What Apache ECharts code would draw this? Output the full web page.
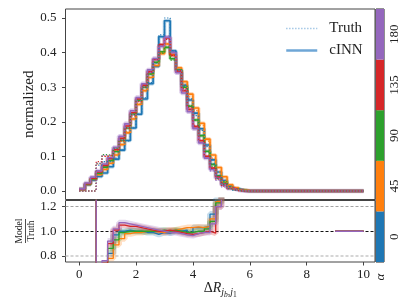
<!DOCTYPE html>
<html><head><meta charset="utf-8">
<script src="https://cdn.jsdelivr.net/npm/echarts@6/dist/echarts.min.js"></script>
<style>html,body{margin:0;padding:0;background:#fff}#c{width:407px;height:305px}</style>
</head><body><div id="c"></div>
<script>
const alphaLabels = ['0', '45', '90', '135', '180'];
const binWidth = 0.2;
const nBins = 50;
const xTicks = [0, 2, 4, 6, 8, 10];
const yTicksTop = [0, 0.1, 0.2, 0.3, 0.4, 0.5];
const yTicksRatio = [0.8, 1.0, 1.2];

// cINN histograms (normalized), bins of width 0.2 from 0 to 10
const cinn0 = [0.004,0.018,0.031,0.042,0.052,0.070,0.092,0.118,0.146,0.182,0.222,0.266,0.310,0.360,0.446,0.492,0.405,0.350,0.306,0.263,0.225,0.180,0.133,0.090,0.055,0.030,0.014,0.006,0.002,0,0,0,0,0,0,0,0,0,0,0,0,0,0,0,0,0,0,0,0,0];
const cinn45 = [0.004,0.019,0.033,0.047,0.062,0.080,0.104,0.134,0.168,0.208,0.250,0.290,0.328,0.362,0.397,0.425,0.395,0.356,0.316,0.280,0.240,0.196,0.150,0.104,0.068,0.041,0.018,0.009,0.003,0.001,0,0,0,0,0,0,0,0,0,0,0,0,0,0,0,0,0,0,0,0];
const cinn90 = [0.005,0.020,0.035,0.051,0.069,0.088,0.114,0.146,0.182,0.222,0.262,0.300,0.338,0.372,0.402,0.415,0.382,0.350,0.300,0.245,0.205,0.160,0.115,0.077,0.044,0.026,0.011,0.005,0.002,0,0,0,0,0,0,0,0,0,0,0,0,0,0,0,0,0,0,0,0,0];
const cinn135 = [0.005,0.021,0.037,0.055,0.074,0.094,0.120,0.152,0.188,0.226,0.266,0.306,0.345,0.380,0.423,0.442,0.392,0.345,0.290,0.236,0.186,0.145,0.100,0.066,0.040,0.020,0.009,0.004,0.001,0,0,0,0,0,0,0,0,0,0,0,0,0,0,0,0,0,0,0,0,0];
const cinn180 = [0.006,0.023,0.040,0.058,0.078,0.097,0.126,0.158,0.194,0.232,0.270,0.310,0.350,0.383,0.418,0.444,0.400,0.342,0.283,0.229,0.180,0.139,0.095,0.062,0.037,0.017,0.008,0.003,0.001,0,0,0,0,0,0,0,0,0,0,0,0,0,0,0,0,0,0,0,0,0];

// Truth histograms
const truth0 = [0,0,0,0.075,0.085,0.085,0.095,0.118,0.145,0.182,0.222,0.269,0.313,0.369,0.451,0.500,0.405,0.350,0.303,0.266,0.218,0.175,0.128,0.079,0.044,0.020,0.008,0.002,0,0,0,0,0,0,0,0,0,0,0,0,0,0,0,0,0,0,0,0,0,0];
const truth45 = [0,0,0,0.078,0.100,0.103,0.117,0.143,0.171,0.210,0.253,0.290,0.328,0.364,0.401,0.425,0.391,0.349,0.307,0.272,0.232,0.190,0.144,0.095,0.055,0.028,0.011,0.004,0.001,0,0,0,0,0,0,0,0,0,0,0,0,0,0,0,0,0,0,0,0,0];
const truth90 = [0,0,0,0.080,0.105,0.102,0.123,0.147,0.182,0.222,0.262,0.300,0.338,0.372,0.398,0.415,0.378,0.350,0.303,0.247,0.205,0.160,0.113,0.071,0.036,0.018,0.006,0.002,0,0,0,0,0,0,0,0,0,0,0,0,0,0,0,0,0,0,0,0,0,0];
const truth135 = [0,0,0,0.085,0.100,0.104,0.119,0.145,0.181,0.217,0.258,0.300,0.342,0.380,0.423,0.438,0.392,0.348,0.296,0.242,0.190,0.146,0.100,0.066,0.034,0.014,0.006,0.001,0,0,0,0,0,0,0,0,0,0,0,0,0,0,0,0,0,0,0,0,0,0];
const truth180 = [0,0,0,0.080,0.103,0.105,0.124,0.148,0.183,0.221,0.260,0.301,0.343,0.379,0.418,0.448,0.404,0.349,0.292,0.237,0.184,0.140,0.096,0.058,0.031,0.012,0.005,0.001,0,0,0,0,0,0,0,0,0,0,0,0,0,0,0,0,0,0,0,0,0,0];

// Model / Truth ratios (null = not drawn)
const ratio0 = [3,3,3,0.56,0.61,0.82,0.97,1.00,1.01,1.00,1.00,0.99,0.99,0.975,0.99,0.985,1.00,1.00,1.01,0.99,1.03,1.03,1.04,1.14,1.26,1.5,1.75,3,null,null,null,null,null,null,null,null,null,null,null,null,null,null,null,null,null,1,1,1,1,1];
const ratio45 = [3,3,3,0.60,0.62,0.78,0.89,0.94,0.98,0.99,0.99,1.00,1.00,0.995,0.99,1.00,1.01,1.02,1.03,1.03,1.035,1.03,1.04,1.10,1.24,1.45,1.65,2.2,null,null,null,null,null,null,null,null,null,null,null,null,null,null,null,null,null,1,1,1,1,1];
const ratio90 = [3,3,3,0.64,0.66,0.86,0.93,0.99,1.00,1.00,1.00,1.00,1.00,1.00,1.01,1.00,1.01,1.00,0.99,0.99,1.00,1.00,1.02,1.08,1.23,1.45,1.7,2.5,null,null,null,null,null,null,null,null,null,null,null,null,null,null,null,null,null,1,1,1,1,1];
const ratio135 = [3,3,3,0.65,0.74,0.90,1.01,1.05,1.04,1.04,1.03,1.02,1.01,1.00,1.00,1.01,1.00,0.99,0.98,0.975,0.98,0.99,1.00,0.985,1.20,1.4,1.6,3,null,null,null,null,null,null,null,null,null,null,null,null,null,null,null,null,null,1,1,1,1,1];
const ratio180 = [3,3,3,0.72,0.76,0.92,1.02,1.07,1.06,1.05,1.04,1.03,1.02,1.01,1.00,0.99,0.99,0.98,0.97,0.965,0.98,0.99,0.99,1.06,1.20,1.4,1.6,3,null,null,null,null,null,null,null,null,null,null,null,null,null,null,null,null,null,1,1,1,1,1];
// bins (by index) that carry an uncertainty band in the ratio panel
const bandFirstBin = 5;
const bandLastBin = 27;

const cinnAll = [cinn0, cinn45, cinn90, cinn135, cinn180];
const truthAll = [truth0, truth45, truth90, truth135, truth180];
const ratioAll = [ratio0, ratio45, ratio90, ratio135, ratio180];
const colors = ['#1f77b4', '#ff7f0e', '#2ca02c', '#d62728', '#9467bd'];

const edges = [];
for (let i = 0; i <= nBins; i++) edges.push(+(i * binWidth).toFixed(1));
function stepData(vals, first, last) {
  const f = first == null ? 0 : first;
  const l = last == null ? nBins - 1 : last;
  const d = [];
  for (let i = f; i <= l; i++) d.push([edges[i], vals[i] == null ? '-' : vals[i]]);
  d.push([edges[l + 1], vals[l] == null ? '-' : vals[l]]);
  return d;
}

const SERIF = '"Liberation Serif", "DejaVu Serif", serif';
const TXT = '#222';
const FRAME = '#444';

const series = [];
for (let a = 0; a < 5; a++) {
  series.push({
    type: 'line', xAxisIndex: 0, yAxisIndex: 0, step: 'end', symbol: 'none', silent: true, z: 2,
    name: 'halo' + a, data: stepData(cinnAll[a]),
    lineStyle: { color: colors[a], width: a === 4 ? 4.5 : 3.5, opacity: 0.35 }
  });
  series.push({
    type: 'line', xAxisIndex: 0, yAxisIndex: 0, step: 'end', symbol: 'none', silent: true, z: 3,
    name: a === 0 ? 'cINN' : 'cinn' + a, data: stepData(cinnAll[a]),
    itemStyle: { color: colors[a] },
    lineStyle: { color: colors[a], width: 1.6 }
  });
  series.push({
    type: 'line', xAxisIndex: 0, yAxisIndex: 0, step: 'end', symbol: 'none', silent: true, z: 4,
    name: a === 0 ? 'Truth' : 'truth' + a, data: stepData(truthAll[a]),
    itemStyle: { color: colors[a] },
    lineStyle: { color: colors[a], width: 1.2, type: [1.2, 1.8] }
  });
}
for (let a = 0; a < 5; a++) {
  const band = {
    type: 'line', xAxisIndex: 1, yAxisIndex: 1, step: 'end', symbol: 'none', silent: true, z: 2,
    name: 'rband' + a, data: stepData(ratioAll[a], bandFirstBin, bandLastBin),
    lineStyle: { color: colors[a], width: 6, opacity: 0.25 }
  };
  if (a === 0) {
    band.markLine = {
      silent: true, symbol: 'none', label: { show: false }, z: 1,
      data: [
        { yAxis: 1.2, lineStyle: { color: '#999', width: 0.9, type: [3, 2] } },
        { yAxis: 1.0, lineStyle: { color: '#111', width: 1, type: [3, 2] } },
        { yAxis: 0.8, lineStyle: { color: '#c8c8c8', width: 1.6, type: [3, 2] } }
      ]
    };
  }
  series.push(band);
  series.push({
    type: 'line', xAxisIndex: 1, yAxisIndex: 1, step: 'end', symbol: 'none', silent: true, z: 3,
    name: 'ratio' + a, data: stepData(ratioAll[a]),
    lineStyle: { color: colors[a], width: 1.3 }
  });
}
series.push({
  type: 'bar', xAxisIndex: 2, yAxisIndex: 2, silent: true, barWidth: '100%',
  data: alphaLabels.map((l, i) => ({ value: 1, itemStyle: { color: colors[i] } }))
});

const tickLabel = { fontFamily: SERIF, fontSize: 13, color: TXT };

const option = {
  animation: false,
  backgroundColor: '#fff',
  grid: [
    { left: 65.5, top: 9, width: 309.5, height: 190.5, show: true, borderColor: FRAME, borderWidth: 1, backgroundColor: 'transparent' },
    { left: 65.5, top: 200.5, width: 309.5, height: 61.5, show: true, borderColor: FRAME, borderWidth: 1, backgroundColor: 'transparent' },
    { left: 376, top: 9, width: 8, height: 253, show: true, borderColor: '#222', borderWidth: 1, backgroundColor: 'transparent' }
  ],
  xAxis: [
    { gridIndex: 0, type: 'value', min: -0.48, max: 10.4, axisLine: { show: false, onZero: false }, axisTick: { show: false }, axisLabel: { show: false }, splitLine: { show: false } },
    {
      gridIndex: 1, type: 'value', min: -0.48, max: 10.4,
      axisLine: { show: false, onZero: false }, splitLine: { show: false },
      axisTick: { show: true, length: 3.5, customValues: xTicks, lineStyle: { color: FRAME } },
      axisLabel: Object.assign({ customValues: xTicks, margin: 6, formatter: v => String(v) }, tickLabel),
      name: '{m|Δ}{i|R}{s|j}{ss|b}{c|,}{s|j}{su|1}',
      nameLocation: 'middle', nameGap: 19, nameMoveOverlap: false,
      nameTextStyle: {
        rich: {
          m: { fontFamily: SERIF, fontSize: 14, verticalAlign: 'top', color: TXT },
          i: { fontFamily: SERIF, fontSize: 14, fontStyle: 'italic', verticalAlign: 'top', color: TXT },
          s: { fontFamily: SERIF, fontSize: 10, fontStyle: 'italic', verticalAlign: 'top', padding: [6, 0, 0, 0], color: TXT },
          c: { fontFamily: SERIF, fontSize: 10, verticalAlign: 'top', padding: [6, 0, 0, 0], color: TXT },
          ss: { fontFamily: SERIF, fontSize: 7.5, fontStyle: 'italic', verticalAlign: 'top', padding: [10, 0, 0, 0], color: TXT },
          su: { fontFamily: SERIF, fontSize: 7.5, verticalAlign: 'top', padding: [10, 0, 0, 0], color: TXT }
        }
      }
    },
    { gridIndex: 2, type: 'value', min: 0, max: 1, show: false }
  ],
  yAxis: [
    {
      gridIndex: 0, type: 'value', min: -0.0246, max: 0.526,
      axisLine: { show: false, onZero: false }, splitLine: { show: false },
      axisTick: { show: true, length: 3.5, customValues: yTicksTop, lineStyle: { color: FRAME } },
      axisLabel: Object.assign({ customValues: yTicksTop, margin: 9, formatter: v => v.toFixed(1) }, tickLabel),
      name: 'normalized', nameLocation: 'middle', nameGap: 29, nameRotate: 90, nameMoveOverlap: false,
      nameTextStyle: { fontFamily: SERIF, fontSize: 15, color: TXT }
    },
    {
      gridIndex: 1, type: 'value', min: 0.75, max: 1.25,
      axisLine: { show: false, onZero: false }, splitLine: { show: false },
      axisTick: { show: true, length: 3.5, customValues: yTicksRatio, lineStyle: { color: FRAME } },
      axisLabel: Object.assign({ customValues: yTicksRatio, margin: 9, formatter: v => v.toFixed(1) }, tickLabel)
    },
    {
      gridIndex: 2, type: 'category', data: alphaLabels, position: 'right',
      axisLine: { show: false, onZero: false }, axisTick: { show: false }, splitLine: { show: false },
      axisLabel: Object.assign({ rotate: 90, margin: 4 }, tickLabel)
    }
  ],
  legend: {
    orient: 'vertical', left: 285, top: 21, padding: 0, itemGap: 7,
    itemWidth: 31, itemHeight: 14,
    textStyle: { fontFamily: SERIF, fontSize: 15, color: TXT, padding: [0, 0, 0, 7] },
    data: [
      { name: 'Truth', itemStyle: { opacity: 0 }, lineStyle: { color: '#8fbbe0', width: 1.5, type: [1.2, 1.8] } },
      { name: 'cINN', itemStyle: { opacity: 0 }, lineStyle: { color: '#6ea6d6', width: 2.5 } }
    ]
  },
  graphic: [
    {
      type: 'group', x: 25.5, y: 231, rotation: Math.PI / 2, silent: true,
      children: [
        { type: 'text', style: { text: 'Model', x: 0, y: -1.2, align: 'center', verticalAlign: 'bottom', font: '9.5px "Liberation Serif"', fill: TXT } },
        { type: 'line', shape: { x1: -12, y1: 0, x2: 12, y2: 0 }, style: { stroke: TXT, lineWidth: 0.8 } },
        { type: 'text', style: { text: 'Truth', x: 0, y: 1.2, align: 'center', verticalAlign: 'top', font: '9.5px "Liberation Serif"', fill: TXT } }
      ]
    },
    {
      type: 'text', x: 381, y: 277, rotation: Math.PI / 2, silent: true,
      style: { text: 'α', align: 'center', verticalAlign: 'middle', font: 'italic 13px "Liberation Serif"', fill: TXT }
    }
  ],
  series: series
};

const chart = echarts.init(document.getElementById('c'), null, { renderer: 'canvas' });
chart.setOption(option);
</script>
</body></html>
